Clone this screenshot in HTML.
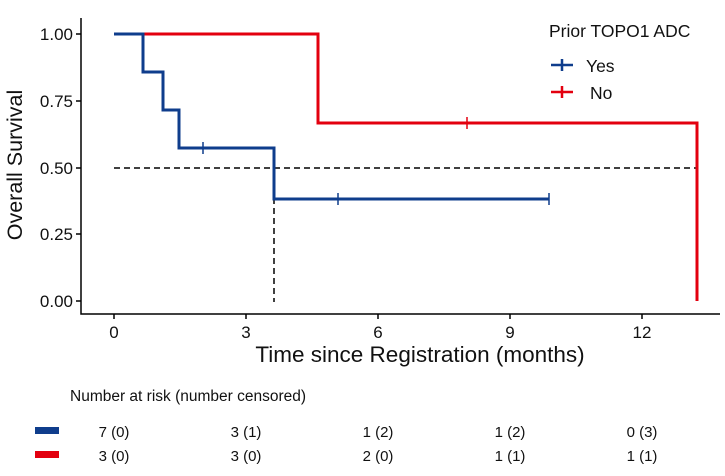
<html><body style="margin:0;background:#fff">
<svg width="725" height="476" xmlns="http://www.w3.org/2000/svg" font-family="Liberation Sans, sans-serif">
<g stroke="#000" stroke-width="1.5" fill="none">
<path d="M81,18V314H720"/>
<path d="M76,34H81M76,101H81M76,168H81M76,234H81M76,301H81"/>
<path d="M114,314v5M246,314v5M378,314v5M510,314v5M642,314v5"/>
</g>
<g font-size="17" fill="#111" text-anchor="end">
<text x="73" y="40">1.00</text><text x="73" y="107">0.75</text><text x="73" y="174">0.50</text><text x="73" y="240">0.25</text><text x="73" y="307">0.00</text>
</g>
<g font-size="17" fill="#111" text-anchor="middle">
<text x="114" y="338">0</text><text x="246" y="338">3</text><text x="378" y="338">6</text><text x="510" y="338">9</text><text x="642" y="338">12</text>
</g>
<text x="420" y="362" font-size="22.5" text-anchor="middle" fill="#111">Time since Registration (months)</text>
<text transform="translate(22,165) rotate(-90)" font-size="21.5" text-anchor="middle" fill="#111">Overall Survival</text>
<g stroke="#000" stroke-width="1.5" stroke-dasharray="6,4" fill="none">
<path d="M114,168H697"/><path d="M274,168V302"/>
</g>
<g stroke="#E3000F" stroke-width="3" fill="none">
<path d="M114,34H318V123H697V301"/>
<path d="M467,117v12" stroke-width="1.5"/>
</g>
<g stroke="#0F3D8C" stroke-width="3" fill="none">
<path d="M114,34H143V72H163V110H179V148H274V199H549"/>
<path d="M203,142v12M338,193v12M549,193v12" stroke-width="1.5"/>
</g>
<text x="549" y="37" font-size="17.5" fill="#111">Prior TOPO1 ADC</text>
<path d="M551,65H573M562,59v12" stroke="#0F3D8C" stroke-width="2.5"/>
<text x="586" y="72" font-size="17.5" fill="#111">Yes</text>
<path d="M551,92H573M562,86v12" stroke="#E3000F" stroke-width="2.5"/>
<text x="590" y="99" font-size="17.5" fill="#111">No</text>
<text x="70" y="401" font-size="15.5" fill="#111">Number at risk (number censored)</text>
<rect x="35" y="427" width="24" height="7" fill="#0F3D8C"/>
<rect x="35" y="451" width="24" height="7" fill="#E3000F"/>
<g font-size="15" fill="#111" text-anchor="middle">
<text x="114" y="437">7 (0)</text><text x="246" y="437">3 (1)</text><text x="378" y="437">1 (2)</text><text x="510" y="437">1 (2)</text><text x="642" y="437">0 (3)</text>
<text x="114" y="461">3 (0)</text><text x="246" y="461">3 (0)</text><text x="378" y="461">2 (0)</text><text x="510" y="461">1 (1)</text><text x="642" y="461">1 (1)</text>
</g>
</svg>
</body></html>
